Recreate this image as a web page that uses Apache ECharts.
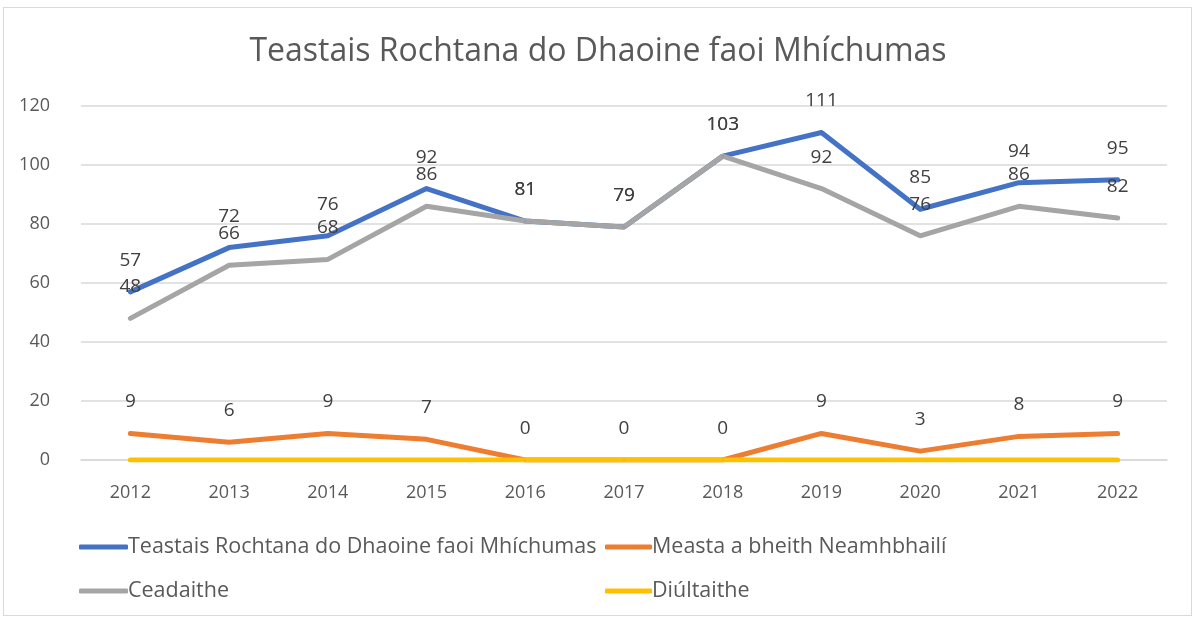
<!DOCTYPE html>
<html>
<head>
<meta charset="utf-8">
<script src="https://cdn.jsdelivr.net/npm/echarts@6/dist/echarts.min.js"></script>
<style>
  html, body { margin: 0; padding: 0; background: #fff; }
  #frame { position: absolute; left: 3px; top: 7px; width: 1189px; height: 609px; border: 1px solid #d9d9d9; box-sizing: border-box; }
  #chart { position: absolute; left: 0; top: 0; width: 1196px; height: 618px; }
</style>
</head>
<body>
<div id="frame"></div>
<div id="chart"></div>
<script>
const titleText = 'Teastais Rochtana do Dhaoine faoi Mhíchumas';
const years = ['2012', '2013', '2014', '2015', '2016', '2017', '2018', '2019', '2020', '2021', '2022'];
const seriesNames = ['Teastais Rochtana do Dhaoine faoi Mhíchumas', 'Measta a bheith Neamhbhailí', 'Ceadaithe', 'Diúltaithe'];
const certificates = [57, 72, 76, 92, 81, 79, 103, 111, 85, 94, 95];
const invalid = [9, 6, 9, 7, 0, 0, 0, 9, 3, 8, 9];
const approved = [48, 66, 68, 86, 81, 79, 103, 92, 76, 86, 82];
const refused = [0, 0, 0, 0, 0, 0, 0, 0, 0, 0, 0];
const yTicks = [0, 20, 40, 60, 80, 100, 120];

const colors = ['#4472C4', '#ED7D31', '#A5A5A5', '#FFC000'];
const font = '"Open Sans", sans-serif';
const textColor = '#595959';

function lineSeries(name, data, color, withLabels) {
  return {
    name: name,
    type: 'line',
    data: data,
    symbol: 'circle',
    symbolSize: 2,
    showSymbol: true,
    lineStyle: { color: color, width: 5, cap: 'round', join: 'round' },
    itemStyle: { color: color },
    label: {
      show: withLabels,
      position: 'top',
      distance: 21,
      color: '#404040',
      fontSize: 19,
      fontFamily: font
    },
    emphasis: { disabled: true },
    animation: false
  };
}

function legendBlock(left, itemWidth, names) {
  return {
    orient: 'vertical',
    left: left,
    top: 531,
    itemGap: 22,
    itemWidth: itemWidth,
    itemHeight: 5,
    icon: 'roundRect',
    data: names,
    textStyle: { color: textColor, fontSize: 21.5, fontFamily: font, padding: [0, 0, 0, -5] }
  };
}

const chart = echarts.init(document.getElementById('chart'));
chart.setOption({
  backgroundColor: 'transparent',
  title: {
    text: titleText,
    left: 'center',
    top: 31,
    textStyle: { color: textColor, fontSize: 32, fontWeight: 'normal', fontFamily: font }
  },
  legend: [
    legendBlock(74, 49, [seriesNames[0], seriesNames[2]]),
    legendBlock(600, 47, [seriesNames[1], seriesNames[3]])
  ],
  grid: { left: 81, right: 29, top: 106, bottom: 158, containLabel: false },
  xAxis: {
    type: 'category',
    data: years,
    boundaryGap: true,
    axisLine: { show: true, lineStyle: { color: '#d9d9d9', width: 1.5 } },
    axisTick: { show: false },
    axisLabel: { color: textColor, fontSize: 18, fontFamily: font, margin: 24 }
  },
  yAxis: {
    type: 'value',
    min: yTicks[0],
    max: yTicks[yTicks.length - 1],
    interval: 20,
    axisLine: { show: false },
    axisTick: { show: false },
    splitLine: { lineStyle: { color: '#d9d9d9', width: 1.5 } },
    axisLabel: { color: textColor, fontSize: 18, fontFamily: font, margin: 31 }
  },
  series: [
    lineSeries(seriesNames[0], certificates, colors[0], true),
    lineSeries(seriesNames[1], invalid, colors[1], true),
    lineSeries(seriesNames[2], approved, colors[2], true),
    lineSeries(seriesNames[3], refused, colors[3], false)
  ]
});
</script>
</body>
</html>
